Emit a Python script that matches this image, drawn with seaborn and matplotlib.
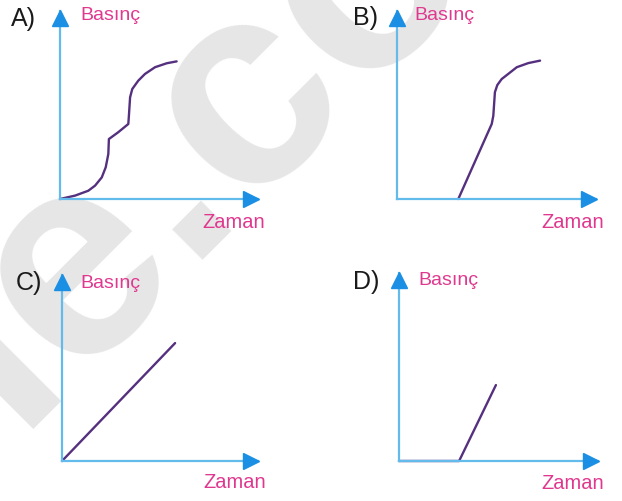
import numpy as np
import pandas as pd
import matplotlib
matplotlib.use("Agg")
import matplotlib.pyplot as plt
import seaborn as sns

# egriler (zaman, basinc) - 0..10 olcekli eksenlerde
a_time = [0, 0.76, 1.43, 1.77, 2.11, 2.31, 2.44, 2.47, 2.94, 3.45, 3.48, 3.54, 3.65, 3.95, 4.29, 4.80, 5.39, 5.89]
a_press = [0, 0.18, 0.44, 0.71, 1.15, 1.69, 2.39, 3.19, 3.55, 3.99, 4.43, 5.41, 5.85, 6.29, 6.65, 7.01, 7.22, 7.32]

b_time = [3.08, 4.76, 4.84, 4.92, 5.04, 5.26, 6.02, 6.60, 7.19]
b_press = [0, 3.99, 4.43, 5.68, 6.06, 6.38, 7.01, 7.23, 7.36]

c_time = [0, 5.77]
c_press = [0, 6.34]

d_time = [0, 3.02, 4.87]
d_press = [0, 0, 4.04]

options = ["A)", "B)", "C)", "D)"]
y_label = "Basınç"
x_label = "Zaman"

sns.set_theme(style="white")
plt.rcParams['font.family'] = ['Liberation Sans', 'DejaVu Sans']

W, H = 622, 502
fig = plt.figure(figsize=(W / 100, H / 100), dpi=100)
fig.patch.set_facecolor("white")

# filigran
fig.text(193 / W, 1 - 143 / H, "ie.co", rotation=45, fontsize=208, fontweight="bold",
         color="#e6e6e6", ha="center", va="center", zorder=-1)

axis_col = "#62bbea"
arrow_col = "#1a8fe3"
curve_col = "#55307f"
pink = "#e0388f"

# (origin x, origin y, x tip, y tip) in px
boxes = [(60, 200, 258, 12), (397, 200, 596, 12), (62, 462, 258, 276), (399, 462, 598, 274)]
series = [(a_time, a_press), (b_time, b_press), (c_time, c_press), (d_time, d_press)]
opt_pos = [(11, 19), (353, 18), (16, 283), (353, 282)]
ylab_pos = [(80, 16), (414, 15), (80, 283), (418, 281)]
xlab_pos = [(202, 222), (541, 222), (203, 483), (541, 484)]

for i in range(4):
    ox, oy, tx, ty = boxes[i]
    w, h = tx - ox, oy - ty
    ax = fig.add_axes([ox / W, 1 - oy / H, w / W, h / H])
    ax.patch.set_alpha(0)
    df = pd.DataFrame({"Zaman": series[i][0], "Basinc": series[i][1]})
    sns.lineplot(data=df, x="Zaman", y="Basinc", ax=ax, color=curve_col, lw=1.7,
                 sort=False, estimator=None, clip_on=False)
    ax.set_xlim(0, 10)
    ax.set_ylim(0, 10)
    ax.set_xticks([])
    ax.set_yticks([])
    ax.set_xlabel("")
    ax.set_ylabel("")
    for s in ["top", "right"]:
        ax.spines[s].set_visible(False)
    for s in ["left", "bottom"]:
        ax.spines[s].set_color(axis_col)
        ax.spines[s].set_linewidth(1.6)
        ax.spines[s].set_zorder(3)
    # ok uclari
    ax.plot([1 - 7 / w], [0], marker=">", ms=11, color=arrow_col, transform=ax.transAxes,
            clip_on=False, zorder=4)
    ax.plot([0], [1 - 7 / h], marker="^", ms=11, color=arrow_col, transform=ax.transAxes,
            clip_on=False, zorder=4)

    fig.text(opt_pos[i][0] / W, 1 - opt_pos[i][1] / H, options[i], fontsize=18,
             color="#1a1a1a", ha="left", va="center")
    fig.text(ylab_pos[i][0] / W, 1 - ylab_pos[i][1] / H, y_label, fontsize=14,
             color=pink, ha="left", va="center")
    fig.text(xlab_pos[i][0] / W, 1 - xlab_pos[i][1] / H, x_label, fontsize=14.5,
             color=pink, ha="left", va="center")

fig.savefig("out.png", dpi=100)
